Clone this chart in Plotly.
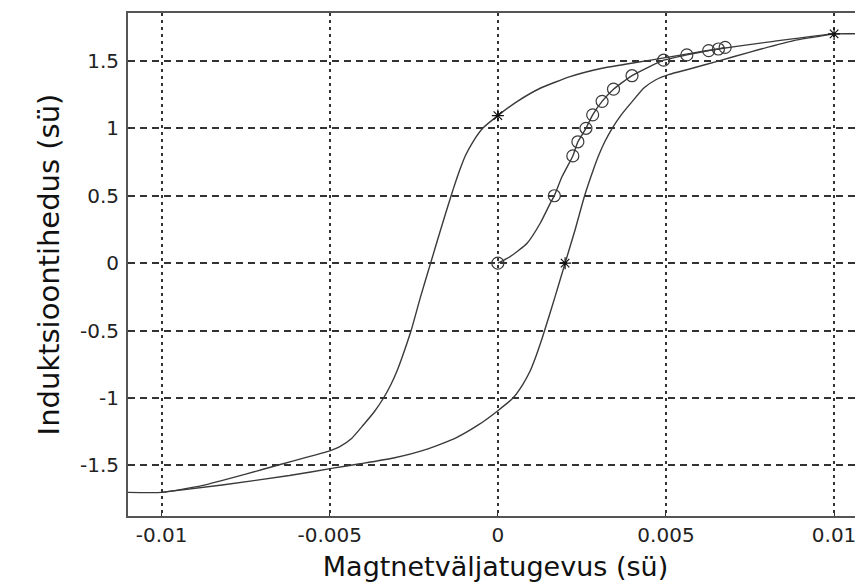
import plotly.graph_objects as go

# Descending (upper) branch of the hysteresis loop
upper_H = [0.011, 0.010, 0.0082, 0.0062, 0.0049, 0.0041, 0.0031, 0.00215, 0.00126, 0.00057, 0.0,
           -0.00045, -0.00074, -0.00096, -0.00112, -0.00126, -0.00139, -0.0017, -0.002, -0.0023,
           -0.00258, -0.00285, -0.003, -0.00318, -0.0034, -0.00367, -0.004, -0.00435, -0.0047,
           -0.0051, -0.0057, -0.0065, -0.0075, -0.0088, -0.010, -0.011]
upper_B = [1.70, 1.70, 1.645, 1.575, 1.52, 1.488, 1.445, 1.383, 1.297, 1.198, 1.094,
           1.0, 0.9, 0.8, 0.7, 0.6, 0.5, 0.25, 0.0, -0.25,
           -0.5, -0.7, -0.8, -0.9, -1.0, -1.1, -1.2, -1.3, -1.36,
           -1.4, -1.44, -1.495, -1.565, -1.65, -1.70, -1.70]

# Ascending (lower) branch
lower_H = [-0.010, -0.0082, -0.0062, -0.0049, -0.0041, -0.0031, -0.00215, -0.00126, -0.00057, 0.0,
           0.00045, 0.00074, 0.00096, 0.00112, 0.00126, 0.00139, 0.0017, 0.002, 0.0023,
           0.00258, 0.00285, 0.003, 0.00318, 0.0034, 0.00367, 0.004, 0.00435, 0.0047,
           0.0051, 0.0057, 0.0065, 0.0075, 0.0088, 0.010]
lower_B = [-1.70, -1.645, -1.575, -1.52, -1.488, -1.445, -1.383, -1.297, -1.198, -1.094,
           -1.0, -0.9, -0.8, -0.7, -0.6, -0.5, -0.25, 0.0, 0.25,
           0.5, 0.7, 0.8, 0.9, 1.0, 1.1, 1.2, 1.3, 1.36,
           1.4, 1.44, 1.495, 1.565, 1.65, 1.70]

# Initial magnetisation curve
init_H = [0.0, 0.00037, 0.00087, 0.00126, 0.00156, 0.00168, 0.00191, 0.00223, 0.00238, 0.00262,
          0.00282, 0.0031, 0.00344, 0.00399, 0.00493, 0.00562, 0.00627, 0.00656, 0.00676]
init_B = [0.0, 0.049, 0.148, 0.296, 0.445, 0.50, 0.642, 0.795, 0.90, 1.0,
          1.10, 1.20, 1.29, 1.39, 1.505, 1.544, 1.576, 1.588, 1.60]

# Measured points (circles)
circle_H = [0.0, 0.00168, 0.00223, 0.00238, 0.00262, 0.00282, 0.0031, 0.00344, 0.00399, 0.00493,
            0.00562, 0.00627, 0.00656, 0.00676]
circle_B = [0.0, 0.50, 0.795, 0.90, 1.0, 1.10, 1.20, 1.29, 1.39, 1.505,
            1.544, 1.576, 1.588, 1.60]

# Characteristic points (stars)
star_H = [0.0, 0.002, 0.010]
star_B = [1.094, 0.0, 1.70]

x_ticks = [-0.01, -0.005, 0, 0.005, 0.01]
x_ticktext = ["-0.01", "-0.005", "0", "0.005", "0.01"]
y_ticks = [-1.5, -1, -0.5, 0, 0.5, 1, 1.5]
y_ticktext = ["-1.5", "-1", "-0.5", "0", "0.5", "1", "1.5"]

x_title = "Magtnetväljatugevus (sü)"
y_title = "Induktsioontihedus (sü)"

line_col = "#3a3a3a"

fig = go.Figure()
for hx, by in [(upper_H, upper_B), (lower_H, lower_B), (init_H, init_B)]:
    fig.add_trace(go.Scatter(x=hx, y=by, mode="lines",
                             line=dict(color=line_col, width=1.4, shape="spline", smoothing=0.5),
                             showlegend=False))
fig.add_trace(go.Scatter(x=circle_H, y=circle_B, mode="markers",
                         marker=dict(symbol="circle-open", size=12, color=line_col,
                                     line=dict(width=1.2, color=line_col)),
                         showlegend=False))
fig.add_trace(go.Scatter(x=star_H, y=star_B, mode="markers",
                         marker=dict(symbol="asterisk-open", size=10, color="#111",
                                     line=dict(width=1.2, color="#111")),
                         showlegend=False))

tick_font = dict(family="DejaVu Sans", size=20, color="#222")

# The page body has an 8px margin, so the figure is offset by 8px inside the window.
fig.update_layout(
    width=855, height=574,
    margin=dict(l=120, r=0, t=5, b=66),
    paper_bgcolor="white", plot_bgcolor="white",
    xaxis=dict(range=[-0.011, 0.01086], tickvals=x_ticks, ticktext=x_ticktext,
               showgrid=True, gridcolor="#333", gridwidth=1.5, griddash="3px,4px",
               zeroline=False, showline=True, linecolor="#555", linewidth=2, mirror=True,
               ticks="inside", ticklen=5, tickcolor="#333", tickfont=tick_font,
               automargin=False,
               title=dict(text=x_title, font=dict(family="DejaVu Sans", size=27, color="#111"),
                          standoff=16)),
    yaxis=dict(range=[-1.875, 1.855], tickvals=y_ticks, ticktext=y_ticktext,
               showgrid=True, gridcolor="#333", gridwidth=1.5, griddash="7px,5px",
               zeroline=False, showline=True, linecolor="#555", linewidth=2, mirror=False,
               ticks="inside", ticklen=5, tickcolor="#333", tickfont=tick_font,
               ticklabelstandoff=3, automargin=False,
               title=dict(text=y_title, font=dict(family="DejaVu Sans", size=29, color="#111"),
                          standoff=12)),
)

fig.write_html("out.html")
